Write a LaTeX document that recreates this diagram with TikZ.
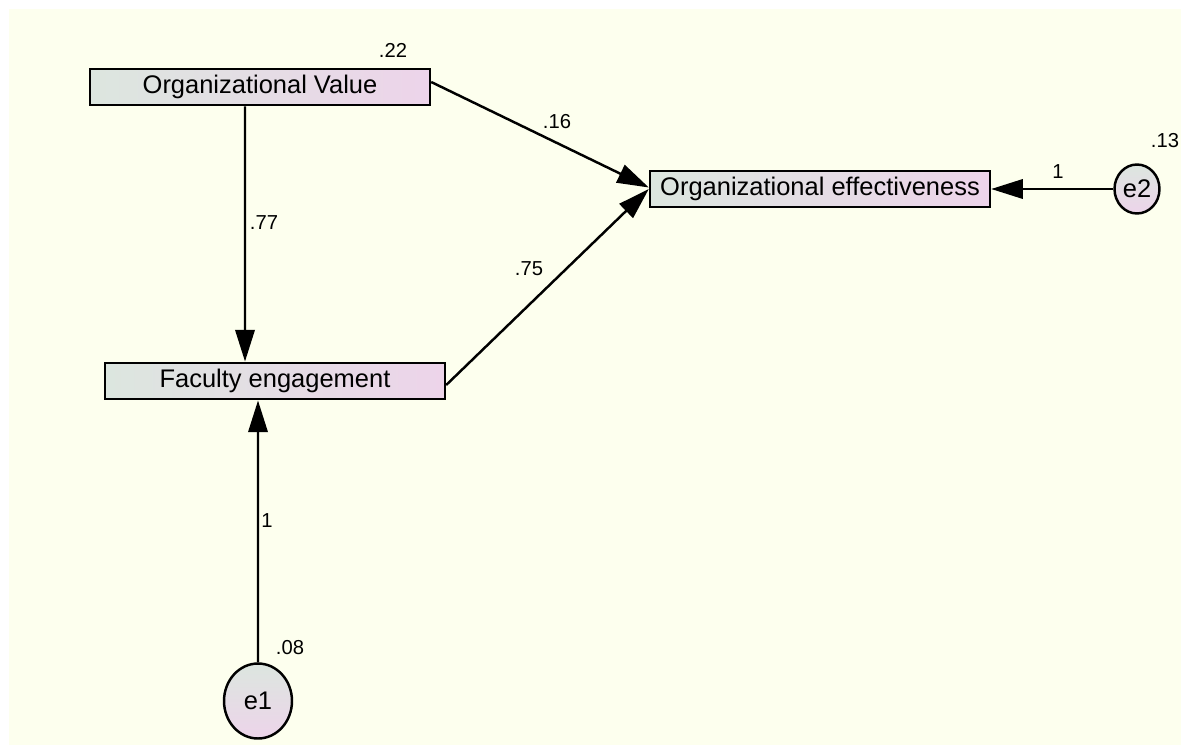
\documentclass[tikz,border=0pt]{standalone}
\usepackage{fontspec}
\setmainfont{Liberation Sans}
\usepackage{xcolor}
\usetikzlibrary{arrows.meta,shapes.geometric}

\definecolor{paper}{HTML}{FDFFEE}
\definecolor{leftfill}{HTML}{DCE6DF}
\definecolor{rightfill}{HTML}{EDD4EA}

\begin{document}
\begin{tikzpicture}[
                x=0.02cm,y=-0.02cm,
                obsbox/.style={draw,line width=1.4pt,rectangle,minimum width=6.8cm,minimum height=0.73cm,inner sep=0pt,
                    left color=leftfill,right color=rightfill,font=\fontsize{14.5}{17}\selectfont},
                errvar/.style={draw,line width=1.4pt,ellipse,inner sep=0pt,shading angle=135,
                    top color=leftfill,bottom color=rightfill,font=\fontsize{14.5}{17}\selectfont},
                connection/.style={-{Triangle[length=18pt,width=11pt]},line width=1.4pt},
                weight/.style={font=\fontsize{11.5}{13}\selectfont,inner sep=1pt},
            ]

            \useasboundingbox (0,0) rectangle (1181,747);
            \fill[paper] (9,9) rectangle (1181,745);

            \node[obsbox] (value) at (260,87) {Organizational Value};
            \node[obsbox] (effect) at (820,189) {Organizational effectiveness};
            \node[obsbox] (engage) at (275,381) {Faculty engagement};

            \node[errvar,minimum width=0.9cm,minimum height=0.98cm] (e2) at (1137,189) {e2};
            \node[errvar,minimum width=1.36cm,minimum height=1.5cm] (e1) at (258,701) {e1};

            \draw[connection] ([xshift=-0.3cm]value.south) -- ([xshift=-0.6cm]engage.north);
            \draw[connection] ([yshift=0.1cm]value.east) -- ([yshift=0.03cm]effect.west);
            \draw[connection] ([yshift=-0.08cm]engage.east) -- (effect.west);
            \draw[connection] (e2) -- (effect.east);
            \draw[connection] (e1) -- ([xshift=-0.34cm]engage.south);

            \node[weight] (r-value) at (393,50) {.22};
            \node[weight] (w-ve) at (557,122) {.16};
            \node[weight] (w-vg) at (264,223) {.77};
            \node[weight] (w-ge) at (529,269) {.75};
            \node[weight] (w-e2) at (1058,172) {1};
            \node[weight] (r-e2) at (1165,141) {.13};
            \node[weight] (w-e1) at (267,521) {1};
            \node[weight] (r-e1) at (290,648) {.08};
        \end{tikzpicture}
\end{document}
